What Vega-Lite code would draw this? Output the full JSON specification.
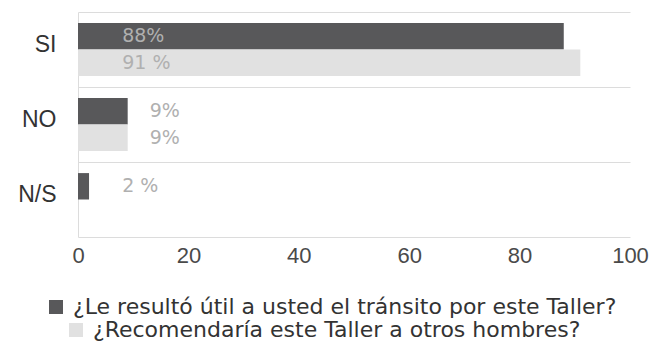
{
  "$schema": "https://vega.github.io/schema/vega-lite/v6.json",
  "width": 552,
  "height": 225,
  "autosize": {"type": "none"},
  "padding": {"left": 78, "top": 12, "right": 23, "bottom": 108},
  "background": "white",
  "config": {
    "font": "Liberation Sans",
    "view": {"stroke": null}
  },
  "data": {
    "values": [
      {"answer": "SI", "series": "¿Le resultó útil a usted el tránsito por este Taller?", "value": 88, "label": "88%"},
      {"answer": "SI", "series": "¿Recomendaría este Taller a otros hombres?", "value": 91, "label": "91 %"},
      {"answer": "NO", "series": "¿Le resultó útil a usted el tránsito por este Taller?", "value": 9, "label": "9%"},
      {"answer": "NO", "series": "¿Recomendaría este Taller a otros hombres?", "value": 9, "label": "9%"},
      {"answer": "N/S", "series": "¿Le resultó útil a usted el tránsito por este Taller?", "value": 2, "label": "2 %"}
    ]
  },
  "encoding": {
    "y": {
      "field": "answer",
      "type": "nominal",
      "sort": ["SI", "NO", "N/S"],
      "scale": {"paddingInner": 0, "paddingOuter": 0},
      "axis": {
        "title": null,
        "tickBand": "extent",
        "grid": true,
        "gridColor": "#dcdcdc",
        "ticks": false,
        "domainColor": "#dcdcdc",
        "labelFontSize": 23,
        "labelColor": "#333333",
        "labelPadding": 22,
        "labelOffset": -5
      }
    },
    "yOffset": {
      "field": "series",
      "type": "nominal",
      "sort": ["¿Le resultó útil a usted el tránsito por este Taller?", "¿Recomendaría este Taller a otros hombres?"],
      "scale": {"paddingOuter": 0.42, "paddingInner": 0}
    }
  },
  "layer": [
    {
      "transform": [{"filter": "datum.series === '¿Le resultó útil a usted el tránsito por este Taller?'"}],
      "mark": {"type": "bar"},
      "encoding": {
        "x": {
          "field": "value",
          "type": "quantitative",
          "scale": {"domain": [0, 100], "nice": false},
          "axis": {
            "title": null,
            "values": [0, 20, 40, 60, 80, 100],
            "grid": false,
            "ticks": false,
            "domain": false,
            "labelFontSize": 22,
            "labelColor": "#4a4a4a",
            "labelPadding": 8,
            "labelFlush": false,
            "labelOverlap": false
          }
        },
        "color": {
          "field": "series",
          "type": "nominal",
          "scale": {"domain": ["¿Le resultó útil a usted el tránsito por este Taller?"], "range": ["#58585a"]},
          "legend": {
            "orient": "none",
            "legendX": -33,
            "legendY": 284,
            "title": null,
            "symbolType": "square",
            "symbolSize": 196,
            "symbolStrokeWidth": 0,
            "symbolOpacity": 1,
            "labelFont": "DejaVu Sans",
            "labelFontSize": 22,
            "labelColor": "#333333",
            "labelOffset": 6,
            "labelLimit": 0
          }
        }
      }
    },
    {
      "transform": [{"filter": "datum.series === '¿Recomendaría este Taller a otros hombres?'"}],
      "mark": {"type": "bar"},
      "encoding": {
        "x": {"field": "value", "type": "quantitative"},
        "color": {
          "field": "series",
          "type": "nominal",
          "scale": {"domain": ["¿Recomendaría este Taller a otros hombres?"], "range": ["#e1e1e1"]},
          "legend": {
            "orient": "none",
            "legendX": -13,
            "legendY": 307,
            "title": null,
            "symbolType": "square",
            "symbolSize": 196,
            "symbolStrokeWidth": 0,
            "symbolOpacity": 1,
            "labelFont": "DejaVu Sans",
            "labelFontSize": 22,
            "labelColor": "#333333",
            "labelOffset": 6,
            "labelLimit": 0
          }
        }
      }
    },
    {
      "transform": [{"filter": "datum.answer !== 'NO'"}],
      "mark": {"type": "text", "align": "left", "baseline": "middle", "font": "DejaVu Sans", "fontSize": 19, "color": "#b0b0b0"},
      "encoding": {
        "x": {"datum": 8, "type": "quantitative"},
        "text": {"field": "label"}
      }
    },
    {
      "transform": [{"filter": "datum.answer === 'NO'"}],
      "mark": {"type": "text", "align": "left", "baseline": "middle", "dx": 22, "font": "DejaVu Sans", "fontSize": 19, "color": "#b0b0b0"},
      "encoding": {
        "x": {"field": "value", "type": "quantitative"},
        "text": {"field": "label"}
      }
    }
  ],
  "resolve": {"scale": {"color": "independent"}}
}
